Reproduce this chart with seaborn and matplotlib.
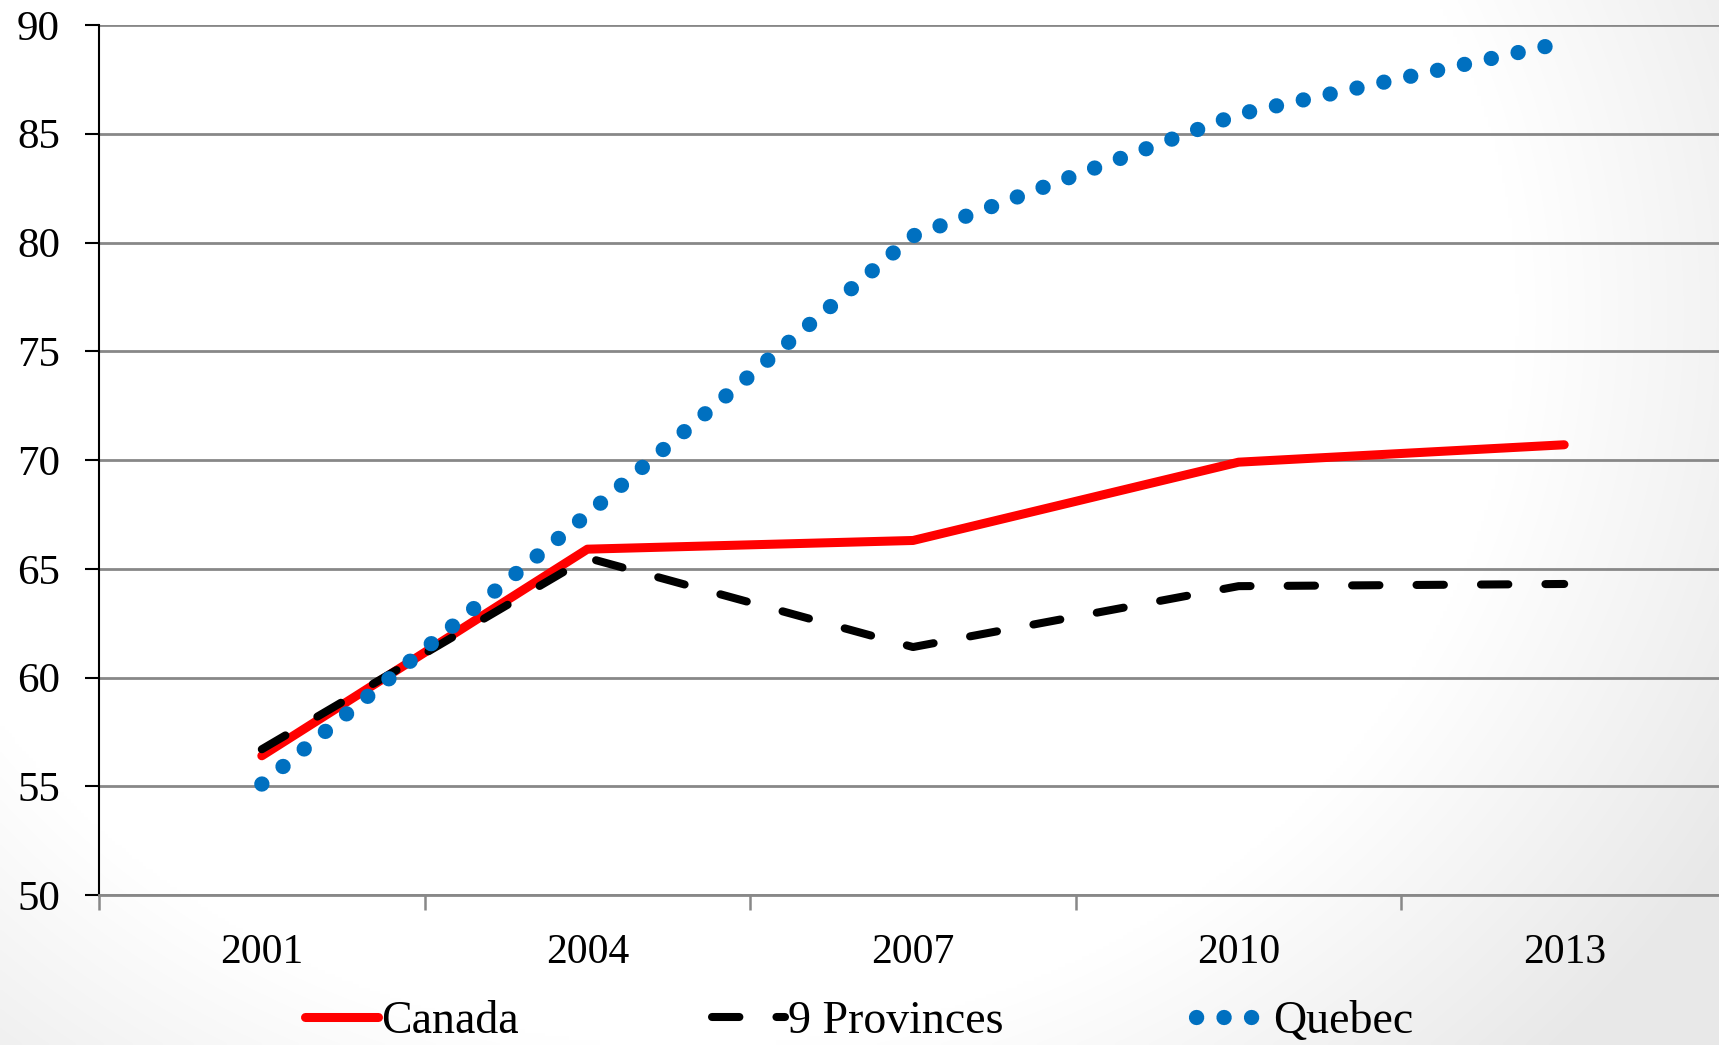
import numpy as np
import pandas as pd
import matplotlib
matplotlib.use("Agg")
import matplotlib.pyplot as plt
import seaborn as sns

# Survey years (categorical x axis)
years = ["2001", "2004", "2007", "2010", "2013"]

# Values per series
canada = [56.4, 65.9, 66.3, 69.9, 70.7]
nine_provinces = [56.7, 65.5, 61.4, 64.2, 64.3]
quebec = [55.1, 67.5, 80.3, 85.9, 89.2]

series_names = ["Canada", "9 Provinces", "Quebec"]
y_ticks = [50, 55, 60, 65, 70, 75, 80, 85, 90]

df = pd.DataFrame({
    "Year": years * 3,
    "Value": canada + nine_provinces + quebec,
    "Series": [s for s in series_names for _ in years],
})

sns.set_style("white")
plt.rcParams["font.family"] = ["Liberation Serif", "DejaVu Serif"]
plt.rcParams["text.color"] = "black"
plt.rcParams["xtick.color"] = "black"
plt.rcParams["ytick.color"] = "black"

W, H = 1719, 1045
fig = plt.figure(figsize=(W / 100, H / 100), dpi=100)

# Soft slide-style vignette behind the chart (lighter toward the upper left)
bg = fig.add_axes([0, 0, 1, 1], zorder=-10)
yy, xx = np.mgrid[0:1:300j, 0:1:500j]  # yy measured from the top
d = np.sqrt(((xx - 0.40) / 0.55) ** 2 + ((yy - 0.30) / 0.80) ** 2)
shade = 1.0 - 0.09 * np.clip((d - 0.88) / 0.40, 0, 1)
bg.imshow(np.dstack([shade] * 3), extent=[0, 1, 0, 1], aspect="auto",
          vmin=0, vmax=1, interpolation="bilinear")
bg.set_axis_off()

ax = fig.add_axes([99 / W, 150 / H, 1628 / W, 870 / H])
ax.set_facecolor("none")

styles = {
    "Canada": dict(color="#FF0000", linewidth=6.5, solid_capstyle="round"),
    "9 Provinces": dict(color="black", linewidth=5.8, linestyle=(0, (3.4, 4.6)),
                        dash_capstyle="round"),
    "Quebec": dict(color="#0070C0", linewidth=11, linestyle=(0, (0.01, 1.79)),
                   dash_capstyle="round"),
}
for name in series_names:
    sns.lineplot(data=df[df["Series"] == name], x="Year", y="Value",
                 ax=ax, label=name, sort=False, **styles[name])

ax.set_xlim(-0.5, len(years) - 0.5)
ax.set_ylim(min(y_ticks), max(y_ticks))
ax.set_yticks(y_ticks)
ax.set_xticks(range(len(years)))
ax.set_xticklabels(years)
ax.set_xticks(np.arange(-0.5, len(years)), minor=True)
ax.set_xlabel("")
ax.set_ylabel("")

ax.yaxis.grid(True, color="#888888", linewidth=2.0)
ax.set_axisbelow(True)

for s in ("top", "right"):
    ax.spines[s].set_visible(False)
ax.spines["left"].set_color("black")
ax.spines["left"].set_linewidth(1.5)
ax.spines["bottom"].set_color("#888888")
ax.spines["bottom"].set_linewidth(2.0)

ax.tick_params(axis="y", which="major", direction="out", length=10, width=1.5,
               color="black", labelcolor="black", pad=18, labelsize=31, left=True)
ax.tick_params(axis="x", which="major", length=0, pad=28, labelsize=30,
               labelcolor="black", bottom=True)
ax.tick_params(axis="x", which="minor", direction="out", length=11, width=1.8,
               color="#888888", bottom=True)

handles, labels = ax.get_legend_handles_labels()
ax.get_legend().remove()
fig.legend(handles, labels, ncol=3, loc="center left",
           bbox_to_anchor=(305 / W, (H - 1022) / H), frameon=False,
           fontsize=33, handlelength=1.6, handletextpad=0.07,
           columnspacing=4.2, borderpad=0, borderaxespad=0)

fig.savefig("out.png", dpi=100)
